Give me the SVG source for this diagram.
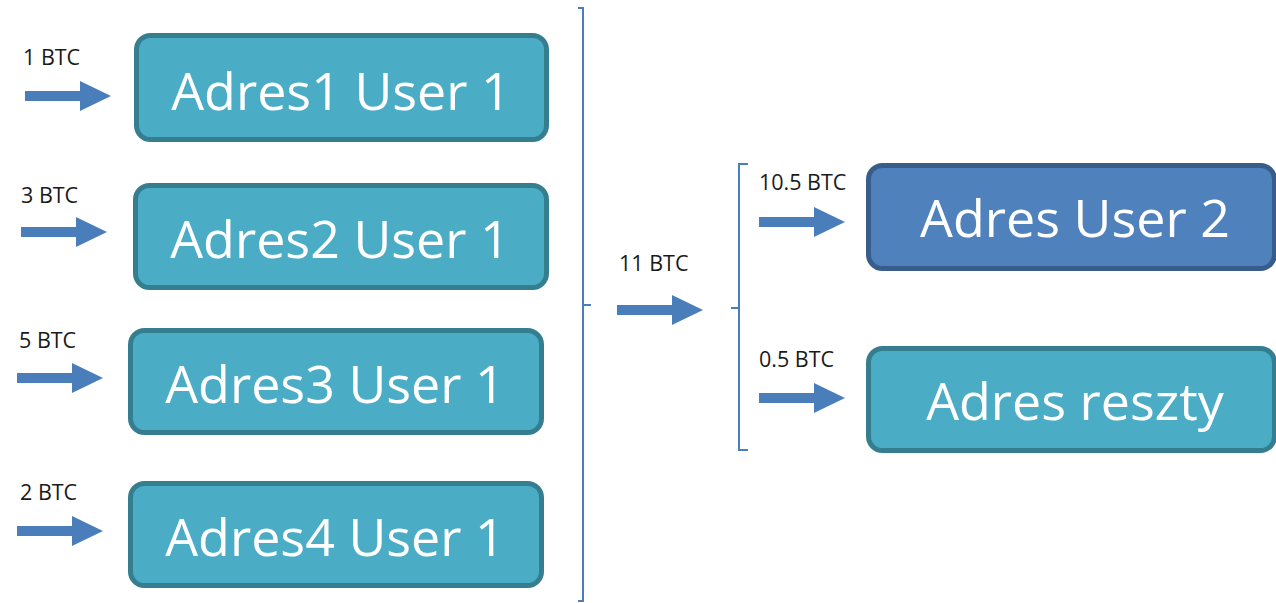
<svg xmlns="http://www.w3.org/2000/svg" xmlns:xlink="http://www.w3.org/1999/xlink" width="1276" height="603" viewBox="0 0 1276 603">
<style>
.box{fill:#4BACC6;stroke:#357E8F;stroke-width:5}
.box2{fill:#4F81BD;stroke:#385D8A;stroke-width:5}
.big{font-family:"Open Sans","Noto Sans",sans-serif;font-size:52px;fill:#ffffff;text-anchor:middle}
.lbl{font-family:"Open Sans","Noto Sans",sans-serif;font-size:21.5px;fill:#1a1a1a}
.arrow{fill:#4A7EBB}
.br{fill:none;stroke:#4A7EBB;stroke-width:2}
</style>
<defs>
<path id="arr" d="M0,-5 H55 V-15 L86,0 L55,15 V5 H0 Z"/>
</defs>
<rect width="1276" height="603" fill="#ffffff"/>
<g id="node-adres1">
<rect class="box" x="136.5" y="35.5" width="410" height="104" rx="14"/>
<text class="big" x="341" y="110">Adres1 User 1</text>
</g>
<g id="node-adres2">
<rect class="box" x="135.5" y="185.5" width="411" height="102" rx="14"/>
<text class="big" x="340" y="258">Adres2 User 1</text>
</g>
<g id="node-adres3">
<rect class="box" x="130.5" y="330.5" width="411" height="102" rx="14"/>
<text class="big" x="335" y="403">Adres3 User 1</text>
</g>
<g id="node-adres4">
<rect class="box" x="130.5" y="483.5" width="411" height="102" rx="14"/>
<text class="big" x="335" y="556">Adres4 User 1</text>
</g>
<g id="node-user2">
<rect class="box2" x="868.5" y="165.5" width="406" height="103" rx="14"/>
<text class="big" x="1075" y="237">Adres User 2</text>
</g>
<g id="node-reszty">
<rect class="box" x="868.5" y="348.5" width="406" height="102" rx="14"/>
<text class="big" x="1075" y="420">Adres reszty</text>
</g>
<g id="connectors">
<use href="#arr" class="arrow" x="25" y="96"/>
<use href="#arr" class="arrow" x="21" y="232"/>
<use href="#arr" class="arrow" x="17" y="378"/>
<use href="#arr" class="arrow" x="17" y="531"/>
<use href="#arr" class="arrow" x="617" y="310"/>
<use href="#arr" class="arrow" x="759" y="222"/>
<use href="#arr" class="arrow" x="759" y="398"/>
<path class="br" d="M578,8 H583 V601 H578 M583,305 H591"/>
<path class="br" d="M748,164 H739 V450 H748 M739,308 H731"/>
<text class="lbl" x="23" y="65">1 BTC</text>
<text class="lbl" x="21" y="203">3 BTC</text>
<text class="lbl" x="19" y="348">5 BTC</text>
<text class="lbl" x="20" y="500">2 BTC</text>
<text class="lbl" x="619" y="271">11 BTC</text>
<text class="lbl" x="759" y="190">10.5 BTC</text>
<text class="lbl" x="759" y="367">0.5 BTC</text>
</g>
</svg>
